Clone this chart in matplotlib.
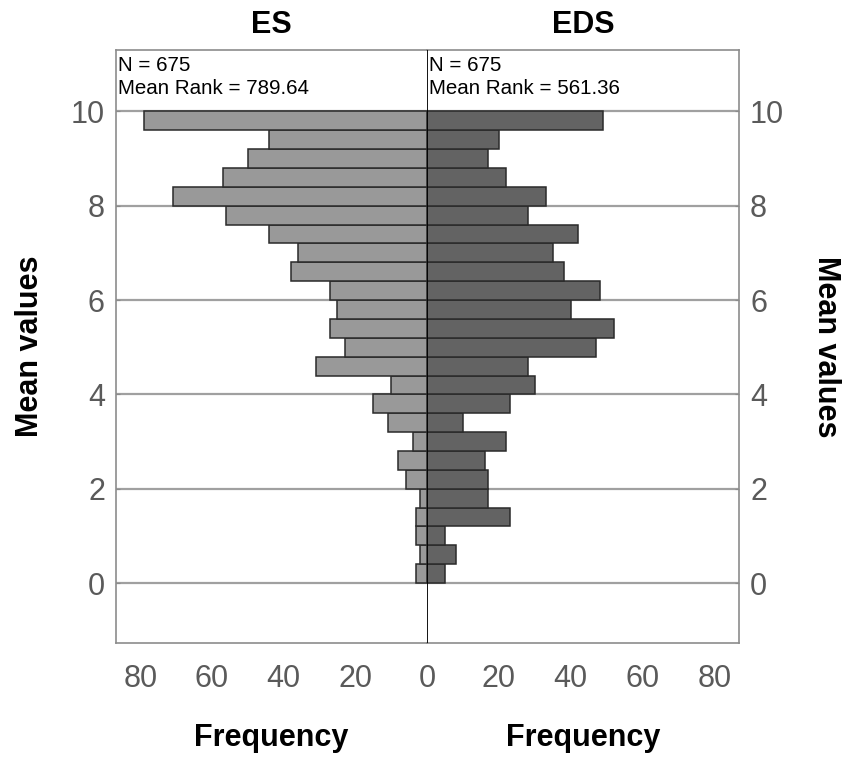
import matplotlib
matplotlib.use("Agg")
import matplotlib.pyplot as plt

# Histogram bins of the mean values (lower edges, width 0.4)
bin_lower = [0.0, 0.4, 0.8, 1.2, 1.6, 2.0, 2.4, 2.8, 3.2, 3.6, 4.0, 4.4, 4.8,
             5.2, 5.6, 6.0, 6.4, 6.8, 7.2, 7.6, 8.0, 8.4, 8.8, 9.2, 9.6]
bin_width = 0.4

# Frequencies per bin, listed from the lowest bin upwards
es_freq = [3, 2, 3, 3, 2, 6, 8, 4, 11, 15, 10, 31, 23, 27, 25, 27, 38, 36,
           44, 56, 71, 57, 50, 44, 79]
eds_freq = [5, 8, 5, 23, 17, 17, 16, 22, 10, 23, 30, 28, 47, 52, 40, 48, 38,
            35, 42, 28, 33, 22, 17, 20, 49]

group_names = ["ES", "EDS"]
group_n = [675, 675]
mean_ranks = [789.64, 561.36]

y_ticks = [0, 2, 4, 6, 8, 10]
left_x_ticks = [80, 60, 40, 20, 0]
right_x_ticks = [20, 40, 60, 80]

W, H = 846, 758
fig = plt.figure(figsize=(W / 100, H / 100), dpi=100)
fig.patch.set_facecolor("white")

x_left, x_mid, x_right = 116, 427, 739
y_top, y_bot = 50, 643
ax_bottom = 1 - y_bot / H
ax_height = (y_bot - y_top) / H

axL = fig.add_axes([x_left / W, ax_bottom, (x_mid - x_left) / W, ax_height])
axR = fig.add_axes([x_mid / W, ax_bottom, (x_right - x_mid) / W, ax_height])

XMAX = 86.8
YLIM = (-1.27, 11.3)
frame_col = "#8c8c8c"
grid_col = "#a0a0a0"
tick_col = "#5a5a5a"

for ax, freq, face in ((axL, es_freq, "#999999"), (axR, eds_freq, "#636363")):
    ax.barh(bin_lower, freq, height=bin_width, align="edge",
            color=face, edgecolor="#2a2a2a", linewidth=1.1, zorder=3)
    ax.set_ylim(*YLIM)
    for yv in y_ticks:
        ax.axhline(yv, color=grid_col, linewidth=1.6, zorder=1)
    for side in ("top", "bottom", "left", "right"):
        ax.spines[side].set_color(frame_col)
        ax.spines[side].set_linewidth(1.2)
    ax.set_facecolor("white")

axL.set_xlim(XMAX, 0)
axR.set_xlim(0, XMAX)
axL.spines["right"].set_visible(False)
axR.spines["left"].set_visible(False)
axR.axvline(0, color="black", linewidth=1.3, zorder=5)

tick_font = dict(family="Liberation Sans", size=22, color=tick_col)

axL.set_xticks(left_x_ticks)
axL.set_xticklabels([str(v) for v in left_x_ticks], **tick_font)
axR.set_xticks(right_x_ticks)
axR.set_xticklabels([str(v) for v in right_x_ticks], **tick_font)

axL.set_yticks(y_ticks)
axL.set_yticklabels([str(v) for v in y_ticks], **tick_font)
axR.yaxis.tick_right()
axR.set_yticks(y_ticks)
axR.set_yticklabels([str(v) for v in y_ticks], **tick_font)

axL.tick_params(axis="x", length=0, pad=15)
axR.tick_params(axis="x", length=0, pad=15)
axL.tick_params(axis="y", direction="in", length=3, color=frame_col, pad=8)
axR.tick_params(axis="y", direction="in", length=3, color=frame_col, pad=8)

# Group statistics in the upper corner of each panel
for ax, n, mr in ((axL, group_n[0], mean_ranks[0]), (axR, group_n[1], mean_ranks[1])):
    ax.text(0.005, 0.99, f"N = {n}\nMean Rank = {mr:.2f}",
            transform=ax.transAxes, ha="left", va="top",
            family="Liberation Sans", size=14.8, color="black",
            linespacing=1.25, zorder=6)

bold = dict(family="Liberation Sans", weight="bold", size=22, color="black")
centers = [(x_left + x_mid) / 2 / W, (x_mid + x_right) / 2 / W]
for cx, name in zip(centers, group_names):
    fig.text(cx, 1 - 25 / H, name, ha="center", va="center", **bold)
    fig.text(cx, 1 - 738 / H, "Frequency", ha="center", va="center", **bold)

mid_y = 1 - (y_top + y_bot) / 2 / H
fig.text(30 / W, mid_y, "Mean values", rotation=90, ha="center", va="center", **bold)
fig.text(826 / W, mid_y, "Mean values", rotation=-90, ha="center", va="center", **bold)

fig.savefig("out.png", dpi=100, facecolor="white")
